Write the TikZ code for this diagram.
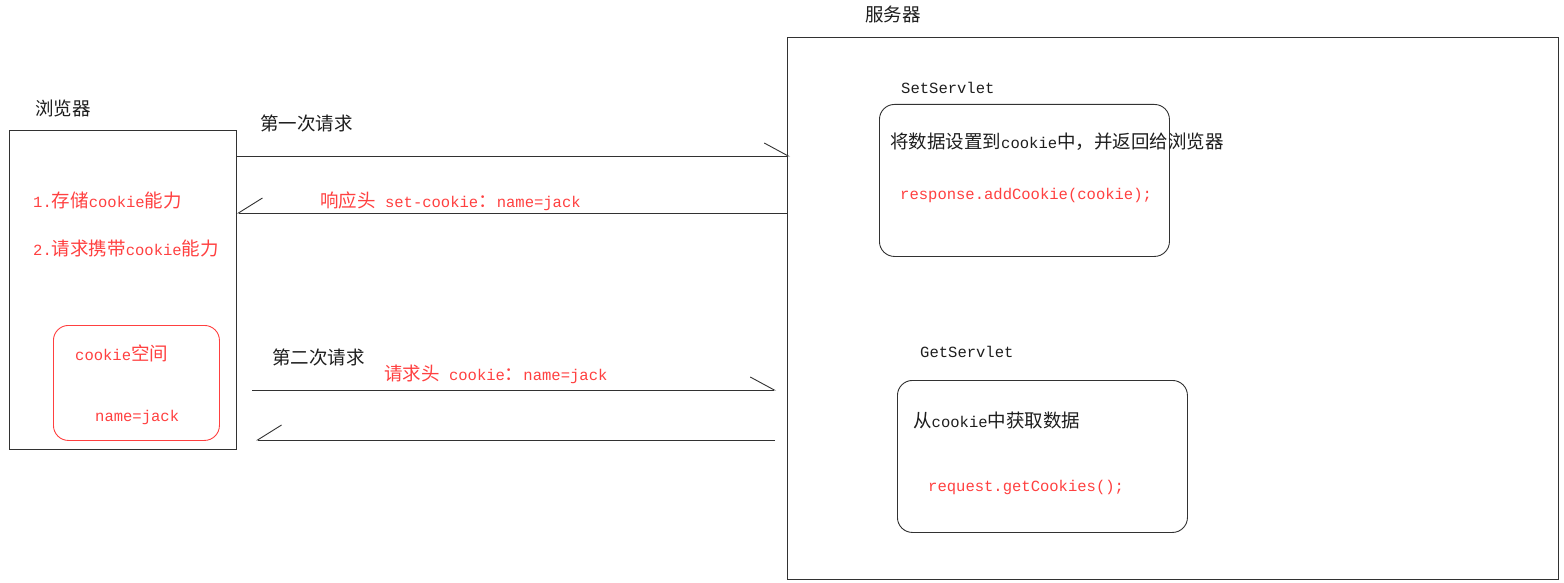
\documentclass[tikz,border=0pt]{standalone}
\usepackage{fontspec}
\setmainfont{Liberation Mono}[Scale=0.84]
\newfontfamily\cjk{Noto Sans CJK SC}
\usetikzlibrary{arrows.meta}
\definecolor{lred}{RGB}{255,64,64}
\definecolor{ln}{RGB}{50,50,50}
\definecolor{txt}{RGB}{30,30,30}
\begin{document}
\begin{tikzpicture}[x=1pt,y=-1pt,
  lbl/.style={font=\fontsize{18.5}{22}\selectfont, inner sep=0pt, anchor=west, text=txt},
  rlbl/.style={lbl, text=lred},
  box/.style={draw=ln, line width=0.9pt, rectangle, inner sep=0pt, anchor=north west},
  rbox/.style={box, rounded corners=15pt},
  conn/.style={draw=ln, line width=0.9pt, line cap=butt},
  toright/.style={conn, -{Straight Barb[harpoon, length=24pt, width=26pt]}},
  toleft/.style={conn, -{Straight Barb[harpoon, swap, length=24pt, width=30pt]}}
]
\useasboundingbox (0,0) rectangle (1564,583);
\fill[white] (0,0) rectangle (1564,583);

% boxes
\node[box, minimum width=227pt, minimum height=319pt] (b) at (9,130) {};
\node[box, minimum width=771pt, minimum height=542pt] (s) at (787,37) {};
\node[rbox, draw=lred, minimum width=166pt, minimum height=115pt] (cs) at (53,325) {};
\node[rbox, minimum width=290pt, minimum height=152pt] (set) at (879,104) {};
\node[rbox, minimum width=290pt, minimum height=152pt] (get) at (897,380) {};

% titles
\node[lbl] (tserver) at (865,14) {\cjk 服务器};
\node[lbl] (tbrowser) at (35,108) {\cjk 浏览器};

% browser texts
\node[rlbl] (cap1) at (33,200) {1.{\cjk 存储}cookie{\cjk 能力}};
\node[rlbl] (cap2) at (33,248) {2.{\cjk 请求携带}cookie{\cjk 能力}};
\node[rlbl] (csp) at (75,353) {cookie{\cjk 空间}};
\node[rlbl] (cval) at (95,417) {name=jack};

% connector labels
\node[lbl] (q1) at (260,123) {\cjk 第一次请求};
\node[rlbl] (r1) at (320,201) {{\cjk 响应头} set-cookie{\cjk ：}name=jack};
\node[lbl] (q2) at (272,357) {\cjk 第二次请求};
\node[rlbl] (h2) at (384,374) {{\cjk 请求头} cookie{\cjk ：}name=jack};

% server texts
\node[lbl] (tset) at (901,88) {SetServlet};
\node[lbl] (dset) at (890,142) {{\cjk 将数据设置到}cookie{\cjk 中，并返回给浏览器}};
\node[rlbl] (cset) at (900,195) {response.addCookie(cookie);};
\node[lbl] (tget) at (920,352) {GetServlet};
\node[lbl] (dget) at (913,420) {{\cjk 从}cookie{\cjk 中获取数据}};
\node[rlbl] (cget) at (928,487) {request.getCookies();};

% connectors
\coordinate (a1e) at (790,158);
\draw[toright] (b.east |- 0,156) -- (a1e |- 0,156);
\draw[toleft] (s.west |- 0,213) -- (b.east |- 0,213);
\coordinate (a3s) at (252,390);
\coordinate (a3e) at (776,390);
\draw[toright] (a3s) -- (a3e);
\coordinate (a4s) at (775,440);
\coordinate (a4e) at (256,440);
\draw[toleft] (a4s) -- (a4e);
\end{tikzpicture}
\end{document}
